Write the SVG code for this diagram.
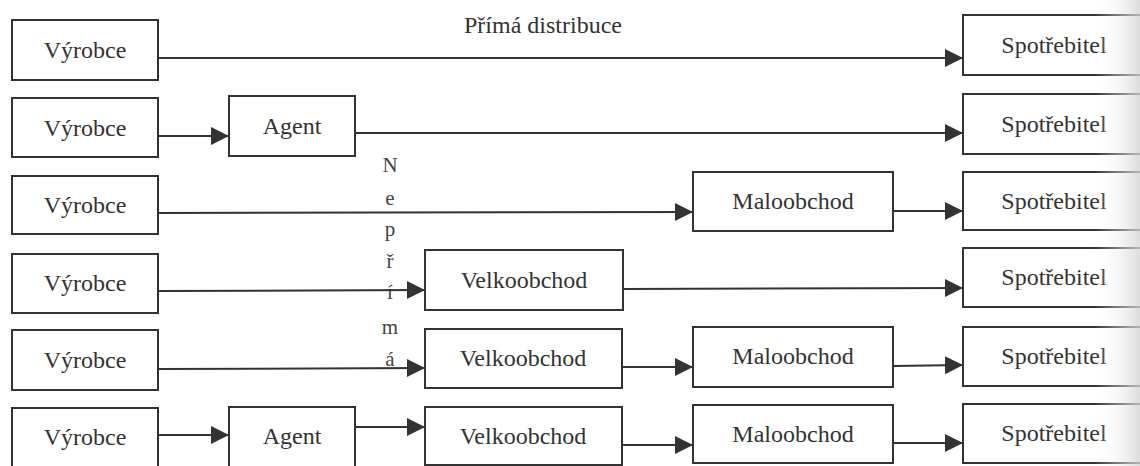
<svg xmlns="http://www.w3.org/2000/svg" width="1140" height="466" viewBox="0 0 1140 466">
  <defs>
    <marker id="arrow" markerUnits="userSpaceOnUse" markerWidth="20" markerHeight="20" refX="18" refY="9" orient="auto">
      <path d="M0,0 L18,9 L0,18 Z" fill="#333"/>
    </marker>
    <linearGradient id="edge" x1="0" y1="0" x2="1" y2="0">
      <stop offset="0" stop-color="#ffffff" stop-opacity="0"/>
      <stop offset="1" stop-color="#d4d4d4" stop-opacity="0.8"/>
    </linearGradient>
    <style>
      .box { fill: #ffffff; stroke: #333; stroke-width: 2; }
      .lbl { font-family: "Liberation Serif", "Times New Roman", serif; font-size: 24px; fill: #333; text-anchor: middle; }
      .vert { font-family: "Liberation Serif", "Times New Roman", serif; font-size: 21px; fill: #444; text-anchor: middle; }
      .conn line { stroke: #333; stroke-width: 2; marker-end: url(#arrow); }
    </style>
  </defs>

  <rect x="0" y="0" width="1140" height="466" fill="#ffffff"/>

  <!-- Heading of the direct channel -->
  <text class="lbl" x="543" y="33">Přímá distribuce</text>

  <!-- Vertical label of the indirect channels -->
  <g id="label-neprima">
    <text class="vert" x="390" y="172">N</text>
    <text class="vert" x="390" y="205">e</text>
    <text class="vert" x="390" y="236">p</text>
    <text class="vert" x="390" y="268">ř</text>
    <text class="vert" x="390" y="299">í</text>
    <text class="vert" x="390" y="334">m</text>
    <text class="vert" x="390" y="366">á</text>
  </g>

  <!-- Connectors -->
  <g id="connectors" class="conn">
    <line x1="158" y1="58" x2="963" y2="58"/>
    <line x1="158" y1="136" x2="229" y2="136"/>
    <line x1="355" y1="133" x2="963" y2="133"/>
    <line x1="158" y1="213" x2="693" y2="212"/>
    <line x1="893" y1="211" x2="963" y2="211"/>
    <line x1="158" y1="291" x2="425" y2="290"/>
    <line x1="623" y1="289" x2="963" y2="288"/>
    <line x1="158" y1="369" x2="425" y2="368"/>
    <line x1="622" y1="367" x2="693" y2="367"/>
    <line x1="893" y1="366" x2="963" y2="365"/>
    <line x1="158" y1="435" x2="229" y2="435"/>
    <line x1="354" y1="427" x2="425" y2="427"/>
    <line x1="622" y1="445" x2="693" y2="445"/>
    <line x1="893" y1="443" x2="963" y2="443"/>
  </g>

  <!-- Row 1: direct distribution -->
  <g id="r1-vyrobce"><rect class="box" x="12" y="20" width="146" height="60"/><text class="lbl" x="85" y="58">Výrobce</text></g>
  <g id="r1-spotrebitel"><rect class="box" x="963" y="15" width="190" height="60"/><text class="lbl" x="1054" y="53">Spotřebitel</text></g>

  <!-- Row 2 -->
  <g id="r2-vyrobce"><rect class="box" x="12" y="98" width="146" height="59"/><text class="lbl" x="85" y="136">Výrobce</text></g>
  <g id="r2-agent"><rect class="box" x="229" y="96" width="126" height="60"/><text class="lbl" x="292" y="134">Agent</text></g>
  <g id="r2-spotrebitel"><rect class="box" x="963" y="94" width="190" height="60"/><text class="lbl" x="1054" y="132">Spotřebitel</text></g>

  <!-- Row 3 -->
  <g id="r3-vyrobce"><rect class="box" x="12" y="176" width="146" height="58"/><text class="lbl" x="85" y="213">Výrobce</text></g>
  <g id="r3-maloobchod"><rect class="box" x="693" y="172" width="200" height="59"/><text class="lbl" x="793" y="209">Maloobchod</text></g>
  <g id="r3-spotrebitel"><rect class="box" x="963" y="172" width="190" height="58"/><text class="lbl" x="1054" y="209">Spotřebitel</text></g>

  <!-- Row 4 -->
  <g id="r4-vyrobce"><rect class="box" x="12" y="254" width="146" height="59"/><text class="lbl" x="85" y="291">Výrobce</text></g>
  <g id="r4-velkoobchod"><rect class="box" x="425" y="250" width="198" height="60"/><text class="lbl" x="524" y="288">Velkoobchod</text></g>
  <g id="r4-spotrebitel"><rect class="box" x="963" y="248" width="190" height="59"/><text class="lbl" x="1054" y="285">Spotřebitel</text></g>

  <!-- Row 5 -->
  <g id="r5-vyrobce"><rect class="box" x="12" y="330" width="146" height="60"/><text class="lbl" x="85" y="368">Výrobce</text></g>
  <g id="r5-velkoobchod"><rect class="box" x="425" y="329" width="197" height="59"/><text class="lbl" x="523" y="366">Velkoobchod</text></g>
  <g id="r5-maloobchod"><rect class="box" x="693" y="327" width="200" height="60"/><text class="lbl" x="793" y="364">Maloobchod</text></g>
  <g id="r5-spotrebitel"><rect class="box" x="963" y="327" width="190" height="59"/><text class="lbl" x="1054" y="364">Spotřebitel</text></g>

  <!-- Row 6 -->
  <g id="r6-vyrobce"><rect class="box" x="12" y="408" width="146" height="60"/><text class="lbl" x="85" y="445">Výrobce</text></g>
  <g id="r6-agent"><rect class="box" x="229" y="407" width="126" height="60"/><text class="lbl" x="292" y="444">Agent</text></g>
  <g id="r6-velkoobchod"><rect class="box" x="425" y="407" width="197" height="58"/><text class="lbl" x="523" y="444">Velkoobchod</text></g>
  <g id="r6-maloobchod"><rect class="box" x="693" y="405" width="200" height="58"/><text class="lbl" x="793" y="442">Maloobchod</text></g>
  <g id="r6-spotrebitel"><rect class="box" x="963" y="404" width="190" height="59"/><text class="lbl" x="1054" y="441">Spotřebitel</text></g>

  <!-- Paper shading at the bound edge -->
  <rect x="1095" y="0" width="45" height="466" fill="url(#edge)"/>
</svg>
